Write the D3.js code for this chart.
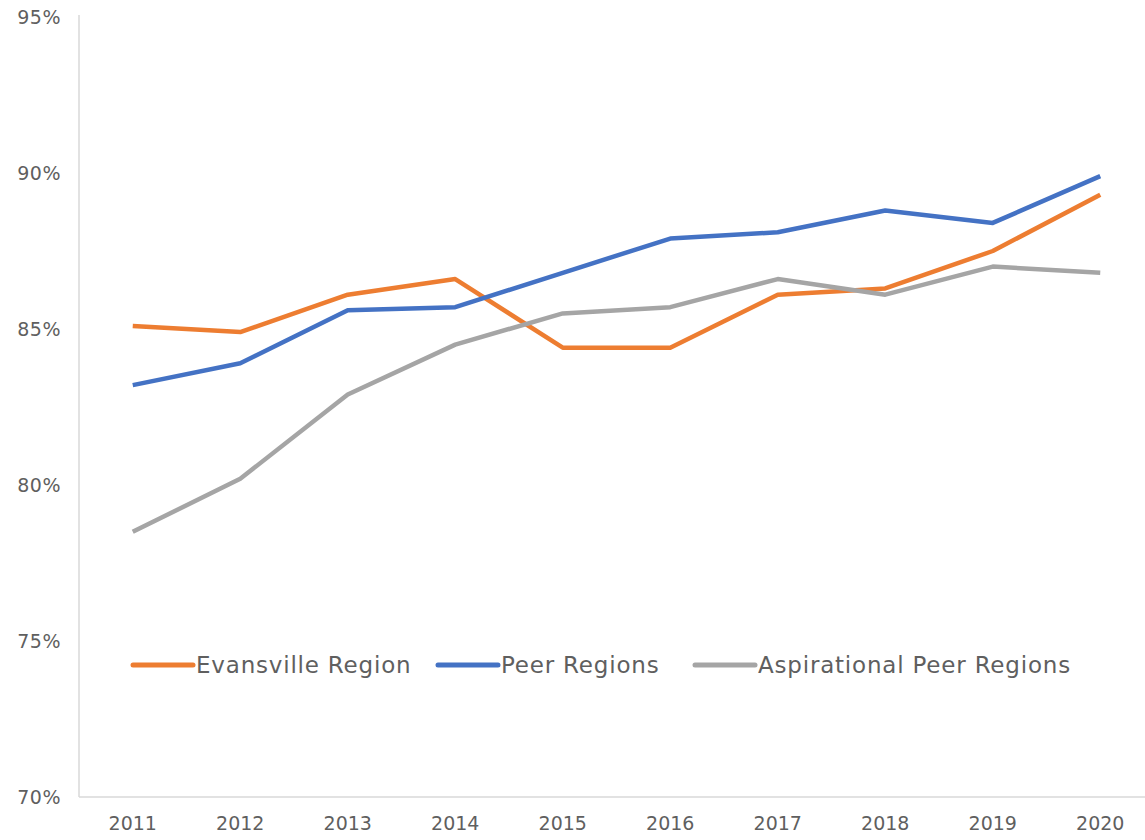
<!DOCTYPE html>
<html>
<head>
<meta charset="utf-8">
<script src="https://cdn.jsdelivr.net/npm/d3@7"></script>
<style>
  body { margin: 0; background: #fff; }
  svg text { font-family: "DejaVu Sans", sans-serif; fill: #5f5f5f; }
</style>
</head>
<body>
<svg width="1145" height="840"></svg>
<script>
// Data
var years = ["2011","2012","2013","2014","2015","2016","2017","2018","2019","2020"];
var evansville = [85.1, 84.9, 86.1, 86.6, 84.4, 84.4, 86.1, 86.3, 87.5, 89.3];
var peer       = [83.2, 83.9, 85.6, 85.7, 86.8, 87.9, 88.1, 88.8, 88.4, 89.9];
var aspiration = [78.5, 80.2, 82.9, 84.5, 85.5, 85.7, 86.6, 86.1, 87.0, 86.8];
var yTicks = [70, 75, 80, 85, 90, 95];
var seriesNames = ["Evansville Region", "Peer Regions", "Aspirational Peer Regions"];
var colors = ["#ED7D31", "#4472C4", "#A5A5A5"];

var series = [evansville, peer, aspiration].map(function(v, i) {
    return { name: seriesNames[i], color: colors[i],
             values: v.map(function(d, j) { return { year: years[j], value: d }; }) };
});

var svg = d3.select("svg"),
    margin = {top: 17, right: -9, bottom: 43, left: 79},
    width = +svg.attr("width") - margin.left - margin.right,
    height = +svg.attr("height") - margin.top - margin.bottom,
    g = svg.append("g").attr("transform", "translate(" + margin.left + "," + margin.top + ")");

var x = d3.scaleBand().domain(years).range([0, width]);
var y = d3.scaleLinear().domain([70, 95]).range([height, 0]);

var line = d3.line()
    .x(function(d) { return x(d.year) + x.bandwidth() / 2; })
    .y(function(d) { return y(d.value); });

// Y axis
var yAxis = g.append("g")
    .call(d3.axisLeft(y).tickValues(yTicks).tickSize(0).tickPadding(18)
        .tickFormat(function(d) { return d + "%"; }));
yAxis.select(".domain").remove();
yAxis.selectAll("text").style("font-size", "19px").style("letter-spacing", "0.5px").attr("fill", "#5f5f5f");
g.append("line")
    .attr("x1", 0).attr("x2", 0)
    .attr("y1", -2).attr("y2", height)
    .attr("stroke", "#d9d9d9").attr("stroke-width", 1.5);

// X axis
var xAxis = g.append("g")
    .attr("transform", "translate(0," + height + ")")
    .call(d3.axisBottom(x).tickSize(0).tickPadding(20));
xAxis.select(".domain").remove();
xAxis.selectAll("text").style("font-size", "19px").attr("fill", "#5f5f5f");
g.append("line")
    .attr("x1", 0).attr("x2", width)
    .attr("y1", height).attr("y2", height)
    .attr("stroke", "#d9d9d9").attr("stroke-width", 1.5);

// Lines
g.selectAll(".series")
    .data(series)
  .enter().append("path")
    .attr("class", "series")
    .attr("fill", "none")
    .attr("stroke", function(d) { return d.color; })
    .attr("stroke-width", 4.5)
    .attr("stroke-linejoin", "round")
    .attr("d", function(d) { return line(d.values); });

// Legend
var legendX = [133, 438, 695];
var legend = svg.append("g").attr("transform", "translate(0,665)");
series.forEach(function(s, i) {
    legend.append("line")
        .attr("x1", legendX[i]).attr("x2", legendX[i] + 60)
        .attr("y1", 0).attr("y2", 0)
        .attr("stroke", s.color).attr("stroke-width", 5)
        .attr("stroke-linecap", "round");
    legend.append("text")
        .attr("x", legendX[i] + 63)
        .attr("y", 0)
        .attr("dy", "0.35em")
        .style("font-size", "23px")
        .style("letter-spacing", "0.8px")
        .text(s.name);
});
</script>
</body>
</html>
